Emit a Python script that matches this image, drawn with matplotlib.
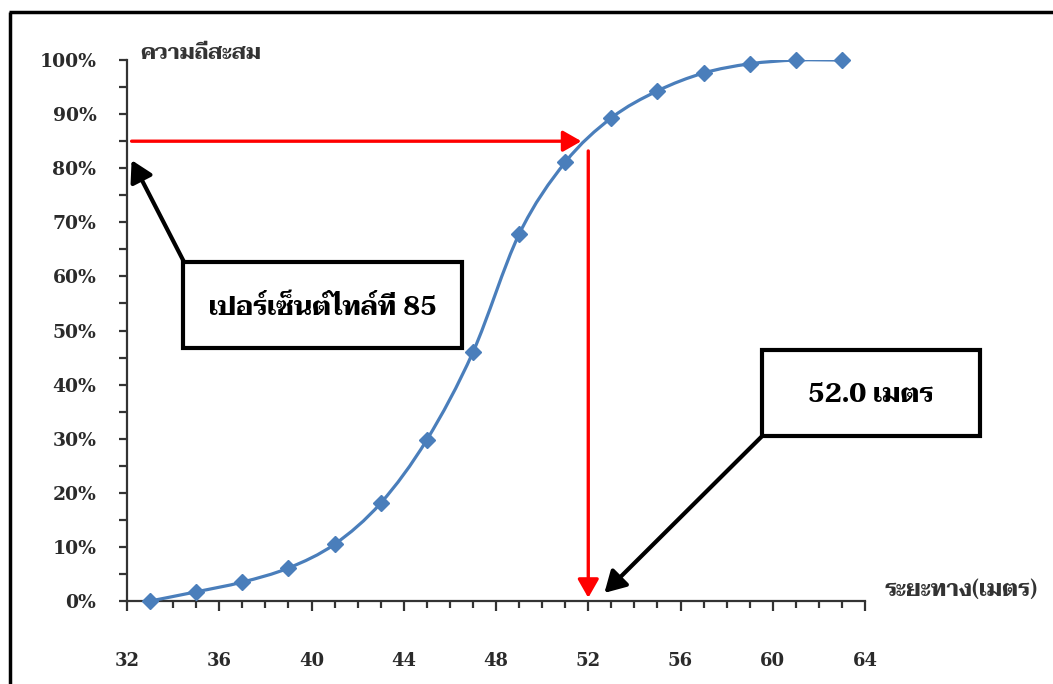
import matplotlib
matplotlib.use("Agg")
import matplotlib.pyplot as plt
import numpy as np
from matplotlib.path import Path
from matplotlib.patches import PathPatch, Rectangle
from matplotlib.lines import Line2D

# ข้อมูล: ระยะทาง (เมตร) และความถี่สะสม (%)
distance = [33, 35, 37, 39, 41, 43, 45, 47, 49, 51, 53, 55, 57, 59, 61, 63]
cum_pct = [0.0, 1.7, 3.5, 6.1, 10.5, 18.1, 29.8, 46.0, 67.8, 81.1, 89.3, 94.3, 97.6, 99.3, 100.0, 100.0]

x_ticks = [32, 36, 40, 44, 48, 52, 56, 60, 64]
y_ticks = [0, 10, 20, 30, 40, 50, 60, 70, 80, 90, 100]
y_labels = ["%d%%" % v for v in y_ticks]

p85 = 85
p85_dist = 52.0

thai = ["Taviraj", "DejaVu Sans"]
tick_font = ["DejaVu Serif"]
blue = "#4a7ebb"


def smooth_path(xs, ys):
    # เส้นโค้งเรียบแบบ Catmull-Rom -> Bezier (ผ่านทุกจุดข้อมูล)
    pts = np.column_stack([xs, ys]).astype(float)
    verts = [pts[0]]
    codes = [Path.MOVETO]
    n = len(pts)
    for i in range(n - 1):
        p0 = pts[max(i - 1, 0)]
        p1 = pts[i]
        p2 = pts[i + 1]
        p3 = pts[min(i + 2, n - 1)]
        verts += [p1 + (p2 - p0) / 6.0, p2 - (p3 - p1) / 6.0, p2]
        codes += [Path.CURVE4] * 3
    return Path(verts, codes)


fig = plt.figure(figsize=(10.53, 6.84), dpi=100)
ax = fig.add_axes([0.1206, 0.1213, 0.7009, 0.7909])

ax.add_patch(PathPatch(smooth_path(distance, cum_pct), fill=False,
                       edgecolor=blue, lw=2.3, zorder=3))
ax.plot(distance, cum_pct, linestyle="none", marker="D", markersize=8,
        color=blue, zorder=4, clip_on=False)

ax.set_xlim(32, 64)
ax.set_ylim(0, 100)

for s in ["top", "right"]:
    ax.spines[s].set_visible(False)
for s in ["left", "bottom"]:
    ax.spines[s].set_color("#333333")
    ax.spines[s].set_linewidth(1.6)

ax.set_xticks(x_ticks)
ax.set_xticks(np.arange(32, 65, 1), minor=True)
ax.set_yticks(y_ticks)
ax.set_yticklabels(y_labels)
ax.set_yticks(np.arange(0, 101, 5), minor=True)
ax.tick_params(axis="x", which="major", direction="out", length=7, width=1.6,
               color="#333333", pad=30)
ax.tick_params(axis="x", which="minor", direction="out", length=5, width=1.6,
               color="#333333")
ax.tick_params(axis="y", which="both", direction="out", length=6, width=1.6,
               color="#333333", pad=16)
for lab in ax.get_xticklabels():
    lab.set_family(tick_font)
    lab.set_fontweight("bold")
    lab.set_fontsize(13)
    lab.set_color("#2a2a2a")
for lab in ax.get_yticklabels():
    lab.set_family(tick_font)
    lab.set_fontweight("bold")
    lab.set_fontsize(13.5)
    lab.set_color("#2a2a2a")

red_arrow = dict(arrowstyle="-|>,head_length=0.7,head_width=0.4", color="red",
                 lw=2.4, mutation_scale=16, shrinkA=0, shrinkB=0)
black_arrow = dict(arrowstyle="-|>,head_length=0.7,head_width=0.4", color="black",
                   lw=3, mutation_scale=18, shrinkA=0, shrinkB=0)

# เส้นลูกศรสีแดง
ax.annotate("", xy=(51.7, p85), xytext=(32.2, p85), arrowprops=red_arrow, zorder=5)
ax.annotate("", xy=(p85_dist, 0.6), xytext=(p85_dist, 83.2), arrowprops=red_arrow,
            zorder=5)

# ลูกศรสีดำชี้จากกล่องข้อความ
ax.annotate("", xy=(32.2, 81.5), xytext=(34.47, 62.7), arrowprops=black_arrow,
            annotation_clip=False, zorder=6)
ax.annotate("", xy=(52.7, 1.5), xytext=(59.54, 30.5), arrowprops=black_arrow,
            annotation_clip=False, zorder=6)

# กล่องข้อความ
ax.add_patch(Rectangle((34.43, 46.77), 12.1, 15.9, facecolor="white",
                       edgecolor="black", lw=3, zorder=7, clip_on=False))
ax.text(40.48, 54.2, "เปอร์เซ็นต์ไทล์ที่ 85", ha="center", va="center",
        fontsize=19, fontweight="bold", family=thai, zorder=8)
ax.add_patch(Rectangle((59.54, 30.5), 9.45, 15.9, facecolor="white",
                       edgecolor="black", lw=3, zorder=7, clip_on=False))
ax.text(64.27, 38.0, "52.0 เมตร", ha="center", va="center",
        fontsize=19, fontweight="bold", family=thai, zorder=8, clip_on=False)

# ชื่อแกน
fig.text(0.133, 0.922, "ความถี่สะสม", ha="left", va="center", fontsize=15.5,
         fontweight="bold", family=thai, color="#333333")
fig.text(0.840, 0.137, "ระยะทาง(เมตร)", ha="left", va="center", fontsize=16,
         fontweight="bold", family=thai, color="#333333")

# กรอบภาพ
fig.add_artist(Line2D([0.0095, 0.0095], [0.0, 0.983], transform=fig.transFigure,
                      color="black", lw=2.5, solid_capstyle="butt"))
fig.add_artist(Line2D([0.0085, 1.0], [0.983, 0.983], transform=fig.transFigure,
                      color="black", lw=2.5, solid_capstyle="butt"))

fig.savefig("out.png", dpi=100)
